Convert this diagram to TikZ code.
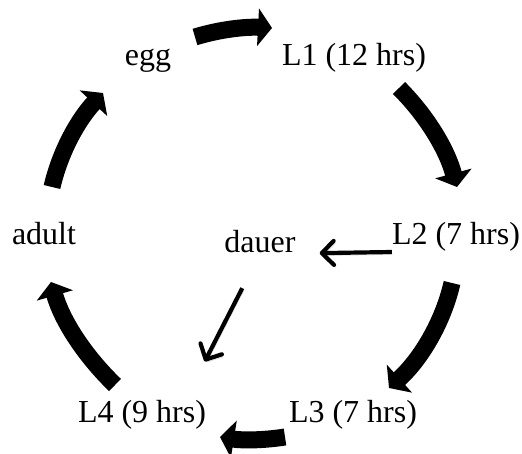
\documentclass[tikz,border=0pt]{standalone}
\usepackage{fontspec}
\setmainfont{Liberation Serif}
\usetikzlibrary{arrows.meta}
\begin{document}
\begin{tikzpicture}[x=1bp,y=1bp,
  stage/.style={font=\fontsize{32bp}{38bp}\selectfont,inner sep=0pt,anchor=base},
  cyc/.style={line width=17bp,-{Triangle[length=14bp,width=37bp]},looseness=0.87},
  side/.style={line width=4.2bp,-{Straight Barb[length=12bp,width=24bp,round]},
    preaction={draw=black!18,transform canvas={shift={(1.5bp,-2.5bp)}}}}]
\useasboundingbox (0,0) rectangle (522,454);
\node[stage] (egg) at (148,388) {egg};
\node[stage] (L1) at (354,388) {L1 (12 hrs)};
\node[stage] (L2) at (456,209) {L2 (7 hrs)};
\node[stage] (L3) at (353,31) {L3 (7 hrs)};
\node[stage] (L4) at (142,31) {L4 (9 hrs)};
\node[stage] (adult) at (44,209) {adult};
\node[stage] (dauer) at (260,201) {dauer};
\draw[cyc] ([shift={(47,29)}]egg.base) to[out=17,in=177] ([shift={(-82,38)}]L1.base);
\draw[cyc] ([shift={(45,-22)}]L1.base) to[out=-45,in=105] ([shift={(1,58)}]L2.base);
\draw[cyc] ([shift={(-4,-38)}]L2.base) to[out=-103,in=42] ([shift={(36,35)}]L3.base);
\draw[cyc] ([shift={(-68,-14)}]L3.base) to[out=189,in=-9] ([shift={(78,-14)}]L4.base);
\draw[cyc] ([shift={(-27,38)}]L4.base) to[out=136,in=-74] ([shift={(7,-37)}]adult.base);
\draw[cyc] ([shift={(8,58)}]adult.base) to[out=77,in=-133] ([shift={(-45,-27)}]egg.base);
\draw[side,shorten >=24bp] (L2.south west) -- (dauer.south east);
\draw[side,shorten <=39bp,shorten >=44bp] (dauer.south) -- (L4.19);
\end{tikzpicture}
\end{document}
